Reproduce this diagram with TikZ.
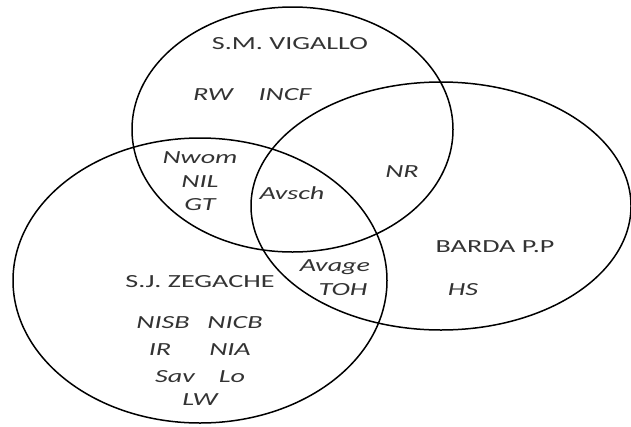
\documentclass[tikz,border=0pt]{standalone}
\usepackage{fontspec}
\setmainfont{Carlito}[FakeStretch=1.52]
\tikzset{
  venn/.style={draw=black, line width=1.5pt},
  setname/.style={font=\fontsize{18.5}{22}\selectfont, text=black!80, inner sep=0pt},
  item/.style={font=\fontsize{18.5}{22}\selectfont\itshape, text=black!80, inner sep=0pt}
}
\begin{document}
\begin{tikzpicture}[x=1pt,y=-1pt]
\useasboundingbox (0,0) rectangle (631,426);
% ellipses
\draw[venn] (292.5,129.5) ellipse [x radius=160.5, y radius=122.5];
\draw[venn] (200,280.5) ellipse [x radius=187, y radius=142.5];
\draw[venn] (441,206) ellipse [x radius=190, y radius=124];
% set names
\node[setname] (vig) at (290,44) {S.M. VIGALLO};
\node[setname] (zeg) at (200,282) {S.J. ZEGACHE};
\node[setname] (bar) at (495,247) {BARDA P.P};
% items
\node[item] (rw) at (213,95) {RW};
\node[item] (incf) at (285,95) {INCF};
\node[item] (nwom) at (200,158) {Nwom};
\node[item] (nil) at (200,182) {NIL};
\node[item] (gt) at (200,205) {GT};
\node[item] (avsch) at (292,193) {Avsch};
\node[item] (nr) at (402,172) {NR};
\node[item] (avage) at (335,267) {Avage};
\node[item] (toh) at (343,290) {TOH};
\node[item] (hs) at (463,290) {HS};
\node[item] (nisb) at (163,323) {NISB};
\node[item] (nicb) at (235,323) {NICB};
\node[item] (ir) at (160,350) {IR};
\node[item] (nia) at (230,350) {NIA};
\node[item] (sav) at (175,377) {Sav};
\node[item] (lo) at (232,377) {Lo};
\node[item] (lw) at (200,400) {LW};
\end{tikzpicture}
\end{document}
